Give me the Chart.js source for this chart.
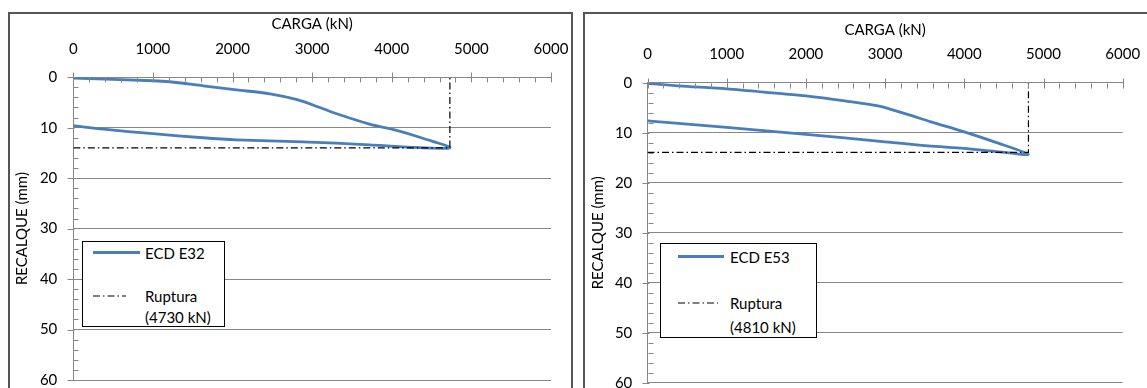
<!DOCTYPE html>
<html>
<head>
<meta charset="utf-8">
<script src="https://cdn.jsdelivr.net/npm/chart.js@4.4.1/dist/chart.umd.min.js"></script>
<style>
    body { margin: 0; width: 1147px; height: 388px; overflow: hidden; background: #fff; font-family: Lato, sans-serif; }
    .frame { position: absolute; border: 2px solid #555; box-sizing: border-box; }
    .plot { position: absolute; }
    .legend { position: absolute; border: 1.5px solid #000; box-sizing: border-box; background: #fff; }
    .legend span { position: absolute; font-size: 15px; line-height: 18px; color: #000; white-space: nowrap; }
    .legend .sample { position: absolute; }
</style>
</head>
<body>
<div class="frame" style="left:8px; top:12px; width:565px; height:400px;"></div>
<div class="frame" style="left:583px; top:12px; width:600px; height:400px;"></div>
<canvas id="chartE32" class="plot" style="left:10px; top:14px;" width="560" height="380"></canvas>
<canvas id="chartE53" class="plot" style="left:586px; top:15px;" width="560" height="380"></canvas>
<div id="legendE32" class="legend" style="left:82px; top:241px; width:143px; height:86px;"></div>
<div id="legendE53" class="legend" style="left:660px; top:243px; width:157px; height:95px;"></div>

<script>
// prova de carga: carregamento seguido de descarregamento
const e32Carga = [0, 1000, 1210, 1630, 2050, 2470, 2800, 3010, 3300, 3720, 4050, 4390, 4730, 4140, 3720, 2880, 2050, 1630, 1000, 380, 0];
const e32Recalque = [0.2, 0.7, 0.9, 1.7, 2.5, 3.3, 4.4, 5.5, 7.2, 9.3, 10.5, 12.1, 14.0, 13.8, 13.4, 12.8, 12.4, 12.0, 11.2, 10.3, 9.6];

const e53Carga = [0, 390, 1000, 1650, 2000, 2490, 2910, 3240, 3580, 4000, 4380, 4810, 4380, 4000, 3540, 3000, 2490, 2000, 1000, 390, 0];
const e53Recalque = [0.1, 0.6, 1.2, 2.1, 2.6, 3.6, 4.6, 6.1, 7.8, 9.8, 11.8, 14.3, 13.7, 13.1, 12.6, 11.8, 11.0, 10.3, 8.9, 8.1, 7.6];

const seriesLabels = ['ECD E32', 'ECD E53'];
const rupturaCarga = [4730, 4810];
const rupturaRecalque = [14.0, 13.9];

const cargaTicks = [0, 1000, 2000, 3000, 4000, 5000, 6000];
const recalqueTicks = [0, 10, 20, 30, 40, 50, 60];
const cargaMinorStep = 200;
const recalqueMinorStep = 2;

const gridColor = '#878787';
const lineColor = '#4A7EBB';
const textColor = '#000';
const baseFont = { family: 'Lato', size: 15 };

function toPoints(xs, ys) {
    return xs.map((x, i) => ({ x, y: ys[i] }));
}

// marcas de escala principais (cruzando o eixo) e secundarias (para dentro)
const tickMarks = {
    id: 'tickMarks',
    afterDraw(chart) {
        const { ctx, chartArea, scales: { x, y } } = chart;
        const top = Math.round(chartArea.top) + 0.5;
        const left = Math.round(chartArea.left) + 0.5;
        ctx.save();
        ctx.strokeStyle = gridColor;
        ctx.lineWidth = 1;
        ctx.beginPath();
        for (let v = x.min; v <= x.max; v += cargaMinorStep) {
            const px = Math.round(x.getPixelForValue(v)) + 0.5;
            const major = cargaTicks.includes(v);
            ctx.moveTo(px, major ? top - 5 : top);
            ctx.lineTo(px, top + 5);
        }
        for (let v = y.min; v <= y.max; v += recalqueMinorStep) {
            const py = Math.round(y.getPixelForValue(v)) + 0.5;
            const major = recalqueTicks.includes(v);
            ctx.moveTo(major ? left - 6 : left, py);
            ctx.lineTo(major ? left + 1 : left + 5, py);
        }
        ctx.stroke();
        ctx.restore();
    }
};

function createSettlementChart(id, label, carga, recalque, ruptura, area) {
    const canvas = document.getElementById(id);
    const r = rupturaRecalque[ruptura];
    const c = rupturaCarga[ruptura];

    return new Chart(canvas, {
        type: 'scatter',
        data: {
            datasets: [{
                label: 'Ruptura',
                data: [{ x: 0, y: r }, { x: c, y: r }, { x: c, y: 0 }],
                showLine: true,
                borderColor: '#000',
                borderWidth: 1.2,
                borderDash: [7, 3, 1.5, 3],
                pointRadius: 0,
                tension: 0
            }, {
                label,
                data: toPoints(carga, recalque),
                showLine: true,
                borderColor: lineColor,
                borderWidth: 2.8,
                pointRadius: 0,
                tension: 0.3
            }]
        },
        options: {
            responsive: false,
            animation: false,
            layout: { padding: { left: 0, top: 0, right: area.padRight, bottom: area.padBottom } },
            plugins: {
                legend: { display: false },
                tooltip: { enabled: false }
            },
            scales: {
                x: {
                    type: 'linear',
                    position: 'top',
                    min: 0,
                    max: 6000,
                    afterBuildTicks: scale => { scale.ticks = cargaTicks.map(value => ({ value })); },
                    afterFit: scale => {
                        scale.height = area.top;
                        scale.paddingLeft = 0;
                        scale.paddingRight = 0;
                    },
                    ticks: { color: textColor, font: baseFont, padding: area.xTickPad, maxRotation: 0, autoSkip: false, callback: v => String(v) },
                    grid: { display: false, drawTicks: false },
                    border: { color: gridColor, width: 1 },
                    title: { display: true, text: 'CARGA (kN)', color: textColor, font: baseFont, padding: { top: area.xTitlePad, bottom: 0 } }
                },
                y: {
                    type: 'linear',
                    reverse: true,
                    min: 0,
                    max: 60,
                    afterBuildTicks: scale => { scale.ticks = recalqueTicks.map(value => ({ value })); },
                    afterFit: scale => {
                        scale.width = area.left;
                        scale.paddingTop = 0;
                        scale.paddingBottom = 0;
                    },
                    ticks: { color: textColor, font: baseFont, padding: area.yTickPad, callback: v => String(v) },
                    grid: { color: gridColor, drawTicks: false },
                    border: { color: gridColor, width: 1 },
                    title: { display: true, text: 'RECALQUE (mm)', color: textColor, font: baseFont, padding: { top: 3, bottom: 0 } }
                }
            }
        },
        plugins: [tickMarks]
    });
}

function buildLegend(id, label, ruptura, pos) {
    const box = document.getElementById(id);
    const dash = '<svg class="sample" style="left:' + pos.x + 'px; top:' + (pos.y2 - 1) + 'px;" width="' + pos.w2 + '" height="2">' +
        '<line x1="0" y1="1" x2="' + pos.w2 + '" y2="1" stroke="#000" stroke-width="1.2" stroke-dasharray="7 3 1.5 3"/></svg>';
    box.innerHTML =
        '<div class="sample" style="left:' + pos.x + 'px; top:' + (pos.y1 - 1.5) + 'px; width:' + pos.w1 + 'px; height:3px; background:' + lineColor + ';"></div>' +
        '<span style="left:' + pos.tx + 'px; top:' + (pos.y1 - 9) + 'px;">' + label + '</span>' +
        dash +
        '<span style="left:' + pos.tx + 'px; top:' + (pos.y2 - 9) + 'px;">Ruptura</span>' +
        '<span style="left:' + pos.tx + 'px; top:' + (pos.y3 - 9) + 'px;">(' + rupturaCarga[ruptura] + ' kN)</span>';
}

createSettlementChart('chartE32', seriesLabels[0], e32Carga, e32Recalque, 0,
    { left: 63.3, top: 63.2, padRight: 19, padBottom: 14, xTickPad: 19.5, xTitlePad: 1.5, yTickPad: 16 });
createSettlementChart('chartE53', seriesLabels[1], e53Carga, e53Recalque, 1,
    { left: 61.5, top: 67.9, padRight: 23.3, padBottom: 12.3, xTickPad: 19.4, xTitlePad: 6, yTickPad: 15.2 });

buildLegend('legendE32', seriesLabels[0], 0, { x: 10, w1: 47, w2: 33, tx: 62, y1: 10.5, y2: 53.5, y3: 75 });
buildLegend('legendE53', seriesLabels[1], 1, { x: 17, w1: 46, w2: 40, tx: 69, y1: 12.5, y2: 59, y3: 82.5 });
</script>
</body>
</html>
